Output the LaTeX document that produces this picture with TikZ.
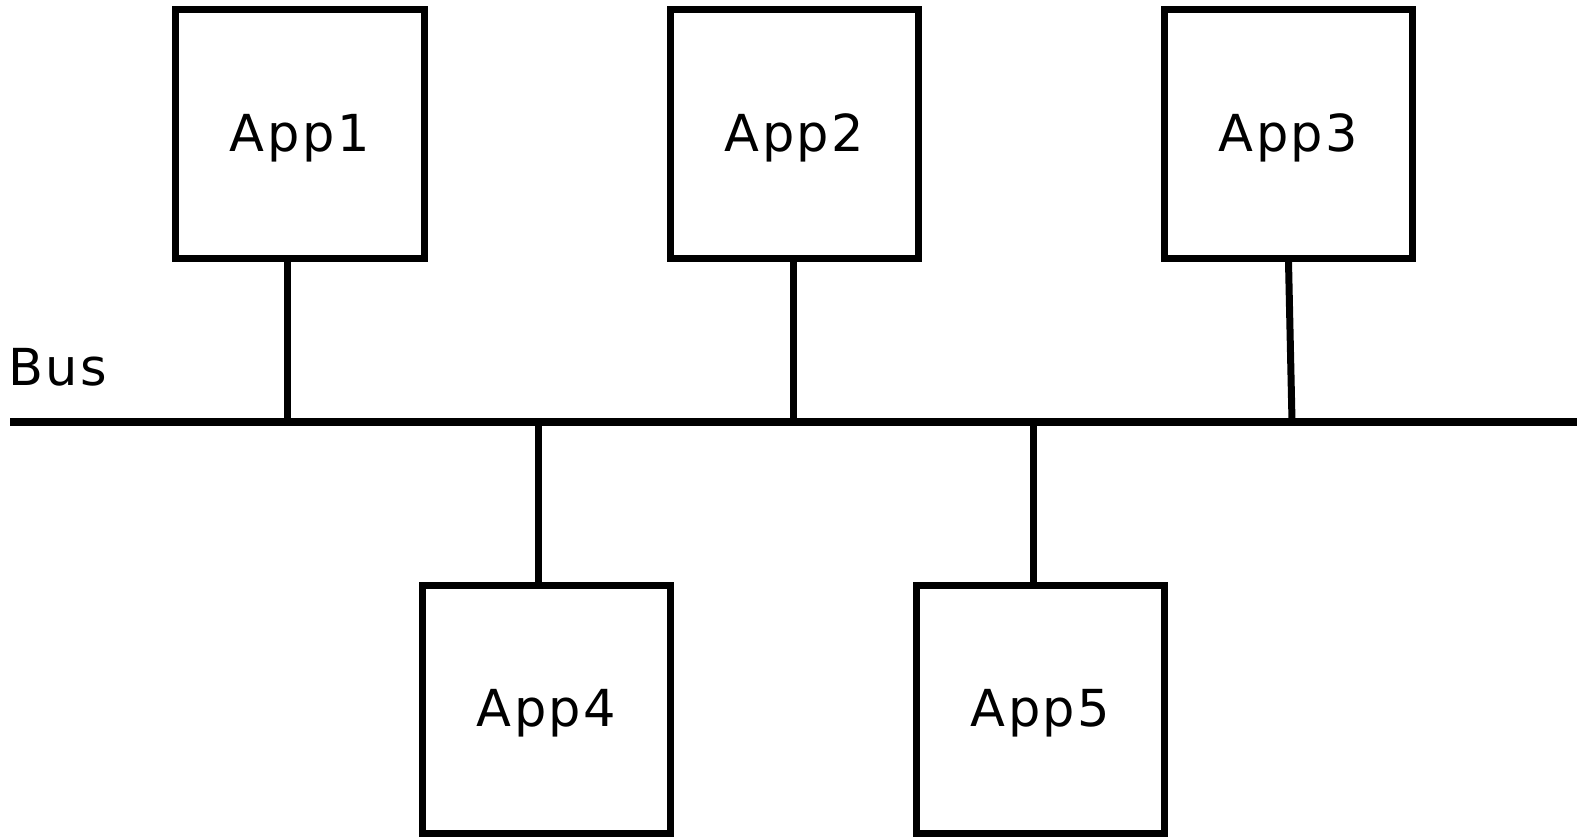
\documentclass[tikz,border=0pt]{standalone}
\usepackage{fontspec}
\setmainfont{DejaVu Sans}[LetterSpace=5]
\begin{document}
\begin{tikzpicture}[x=1pt,y=-1pt,
  appbox/.style={draw=black, line width=7pt, fill=white, minimum width=248.5pt,
    minimum height=248.5pt, inner sep=0pt, text height=39pt, text depth=5pt,
    font=\fontsize{51}{60}\selectfont},
  wire/.style={line width=7pt, line cap=butt},
  busline/.style={line width=8pt, line cap=butt}]
\useasboundingbox (0,0) rectangle (1578,838);

% bus and its taps
\coordinate (busL) at (10,421.5);
\coordinate (busR) at (1577,421.5);
\coordinate (t1) at (287,421.5);
\coordinate (t2) at (793,421.5);
\coordinate (t3) at (1292,421.5);
\coordinate (t4) at (538,421.5);
\coordinate (t5) at (1033,421.5);

% application boxes
\node[appbox] (a1) at (299.75,134) {App1};
\node[appbox] (a2) at (794.5,134) {App2};
\node[appbox] (a3) at (1288.5,134) {App3};
\node[appbox] (a4) at (546.5,709.25) {App4};
\node[appbox] (a5) at (1040.5,709.25) {App5};

\node[anchor=base west, inner sep=0pt, font=\fontsize{51}{60}\selectfont] (buslabel) at (8,385) {Bus};

\draw[busline] (busL) -- (busR);
\draw[wire] (t1 |- a1.south) -- (t1);
\draw[wire] (t2 |- a2.south) -- (t2);
\draw[wire] (a3.south) -- (t3);
\draw[wire] (t4 |- a4.north) -- (t4);
\draw[wire] (t5 |- a5.north) -- (t5);
\end{tikzpicture}
\end{document}
